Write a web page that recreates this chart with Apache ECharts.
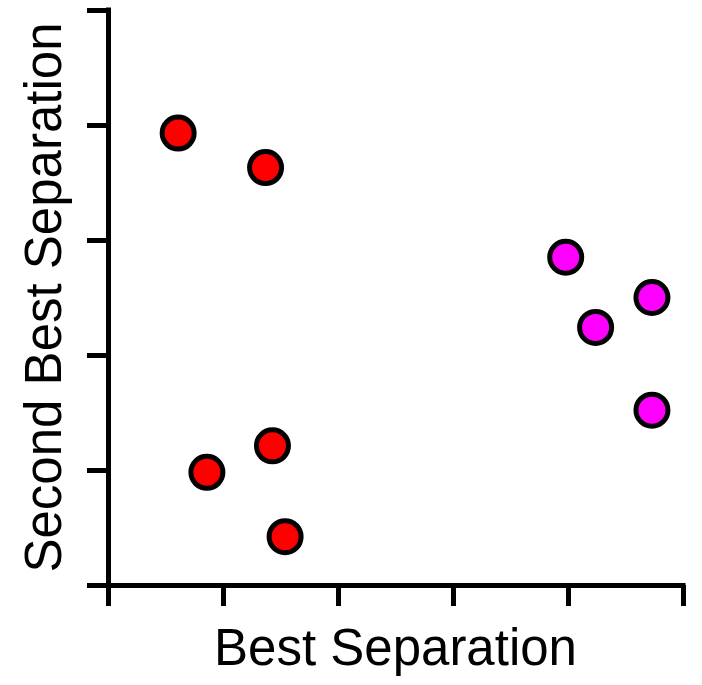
<!DOCTYPE html>
<html>
<head>
<meta charset="utf-8">
<script src="https://cdn.jsdelivr.net/npm/echarts@6/dist/echarts.min.js"></script>
<style>
  html, body { margin: 0; padding: 0; background: #fff; }
  #chart { width: 702px; height: 685px; }
</style>
</head>
<body>
<div id="chart"></div>
<script>
// Two clusters in the plane of the two best separating directions
const groupA = [
  [0.61, 3.93],
  [1.37, 3.63],
  [0.86, 0.98],
  [1.43, 1.21],
  [1.54, 0.42]
];
const groupB = [
  [3.98, 2.85],
  [4.73, 2.50],
  [4.24, 2.24],
  [4.73, 1.52]
];
const xTitle = 'Best Separation';
const yTitle = 'Second Best Separation';

const axisCommon = {
  type: 'value',
  min: 0,
  max: 5,
  interval: 1,
  nameLocation: 'middle',
  nameTextStyle: { fontFamily: 'Liberation Sans', fontSize: 51, color: '#000' },
  axisLine: { show: true, lineStyle: { color: '#000', width: 5, cap: 'square' } },
  axisTick: { show: true, inside: false, length: 21, lineStyle: { color: '#000', width: 5 } },
  axisLabel: { show: false },
  splitLine: { show: false }
};

const chart = echarts.init(document.getElementById('chart'), null, { renderer: 'canvas' });
chart.setOption({
  animation: false,
  backgroundColor: '#fff',
  grid: { left: 108, right: 19, top: 10, bottom: 100, containLabel: false },
  xAxis: Object.assign({}, axisCommon, { name: xTitle, nameGap: 40 }),
  yAxis: Object.assign({}, axisCommon, { name: yTitle, nameGap: 36 }),
  series: [
    {
      type: 'scatter',
      data: groupA,
      symbol: 'circle',
      symbolSize: 32,
      itemStyle: { color: '#ff0000', borderColor: '#000', borderWidth: 5, opacity: 1 }
    },
    {
      type: 'scatter',
      data: groupB,
      symbol: 'circle',
      symbolSize: 32,
      itemStyle: { color: '#ff00ff', borderColor: '#000', borderWidth: 5, opacity: 1 }
    }
  ]
});
</script>
</body>
</html>
